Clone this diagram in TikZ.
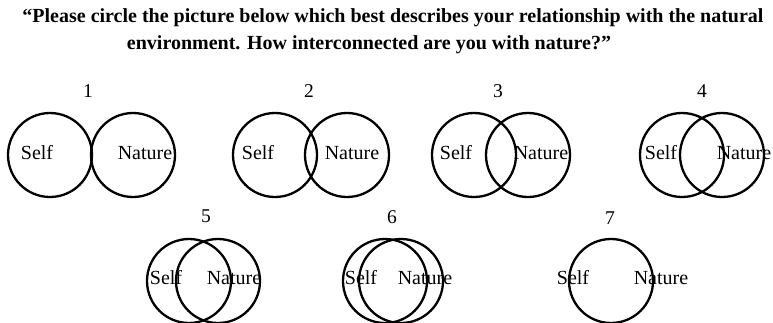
\documentclass[tikz,border=0pt]{standalone}
\usepackage{fontspec}
\setmainfont{Liberation Serif}
\begin{document}
\begin{tikzpicture}[x=1pt,y=-1pt,
  ring/.style={draw=black,line width=2.3pt,circle,minimum size=84pt,inner sep=0pt},
  lbl/.style={font=\fontsize{20}{22}\selectfont,inner sep=0pt},
  num/.style={font=\fontsize{19.5}{21}\selectfont,inner sep=0pt},
  ttl/.style={font=\bfseries\fontsize{20}{22}\selectfont,inner sep=0pt}]
\useasboundingbox (0,0) rectangle (773,322);
% title
\node[ttl] (t1) at (393,18) {``Please circle the picture below which best describes your relationship with the natural};
\node[ttl] (t2) at (369,45) {environment. How interconnected are you with nature?''};
% 1
\node[num] (n1) at (88,91) {1};
\node[ring] (s1) at (50,155) {};
\node[ring] (m1) at (133,155) {};
\node[lbl] (ls1) at (37,153) {Self};
\node[lbl] (lm1) at (145,153) {Nature};
% 2
\node[num] (n2) at (309,91) {2};
\node[ring] (s2) at (275,155) {};
\node[ring] (m2) at (347,155) {};
\node[lbl] (ls2) at (258,153) {Self};
\node[lbl] (lm2) at (352,153) {Nature};
% 3
\node[num] (n3) at (498,91) {3};
\node[ring] (s3) at (474,155) {};
\node[ring] (m3) at (528,155) {};
\node[lbl] (ls3) at (456,153) {Self};
\node[lbl] (lm3) at (541,153) {Nature};
% 4
\node[num] (n4) at (702,91) {4};
\node[ring] (s4) at (682,155) {};
\node[ring] (m4) at (722,155) {};
\node[lbl] (ls4) at (661,153) {Self};
\node[lbl] (lm4) at (744,153) {Nature};
% 5
\node[num] (n5) at (206,216) {5};
\node[ring] (s5) at (189,281) {};
\node[ring] (m5) at (218,281) {};
\node[lbl] (ls5) at (166,278) {Self};
\node[lbl] (lm5) at (234,278) {Nature};
% 6
\node[num] (n6) at (392,217) {6};
\node[ring] (s6) at (385,281) {};
\node[ring] (m6) at (401,281) {};
\node[lbl] (ls6) at (361,278) {Self};
\node[lbl] (lm6) at (425,278) {Nature};
% 7
\node[num] (n7) at (610,218) {7};
\node[ring] (s7) at (611,281) {};
\node[lbl] (ls7) at (573,278) {Self};
\node[lbl] (lm7) at (661,278) {Nature};
\end{tikzpicture}
\end{document}
